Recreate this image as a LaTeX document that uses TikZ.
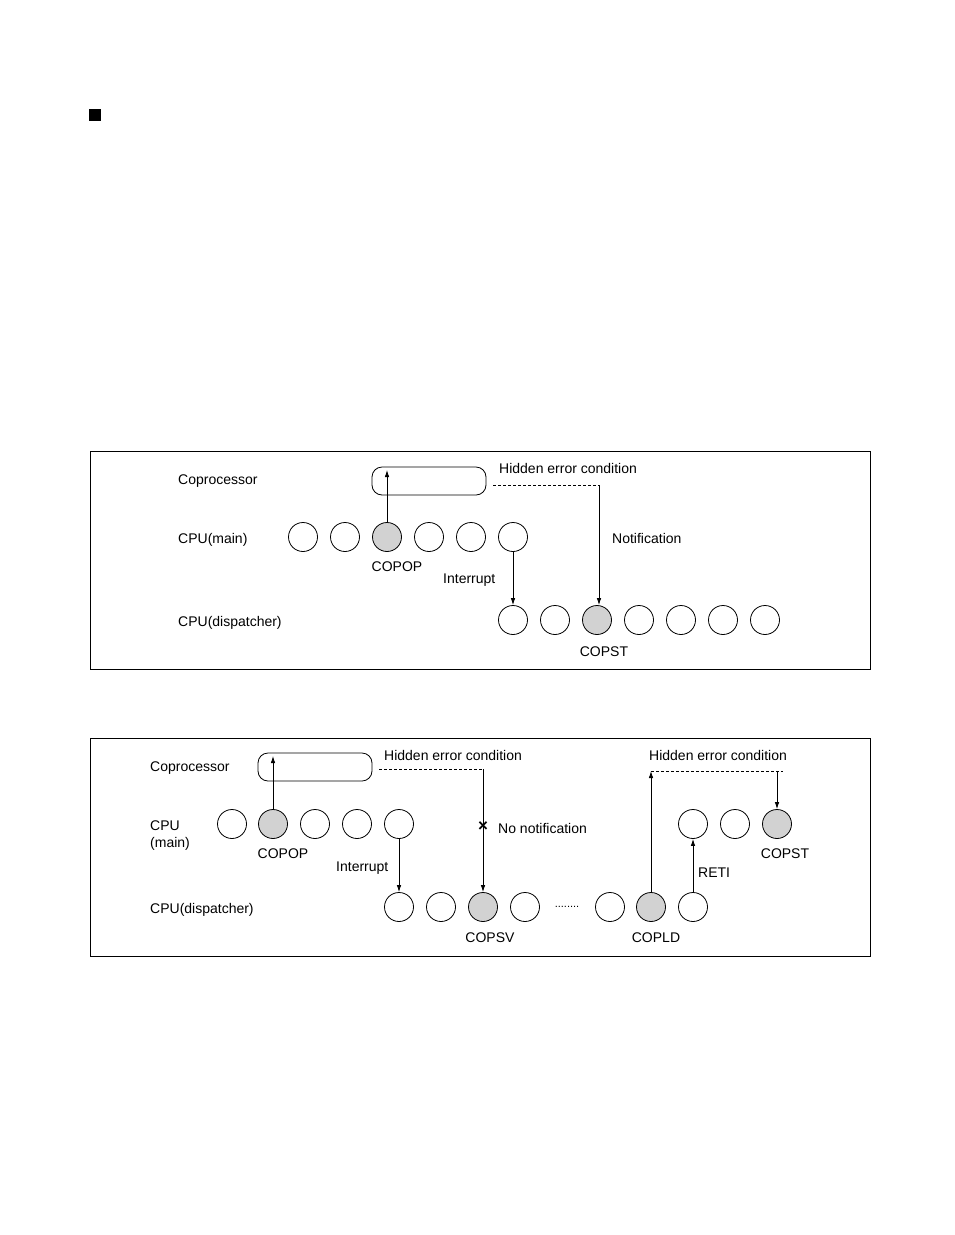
\documentclass[tikz,border=0pt]{standalone}
\usepackage{fontspec}
\setmainfont{Liberation Sans}
\usetikzlibrary{arrows.meta}
\definecolor{copgray}{HTML}{D2D2D2}
\begin{document}
\begin{tikzpicture}[x=1pt,y=-1pt,
  st/.style={circle,draw,line width=0.8pt,minimum size=29pt,inner sep=0pt},
  cop/.style={st,fill=copgray},
  lbl/.style={font=\fontsize{14}{16}\selectfont,inner sep=0pt,anchor=base west},
  clbl/.style={font=\fontsize{14}{16}\selectfont,inner sep=0pt,anchor=base},
  frame/.style={draw,line width=0.8pt},
  copbox/.style={draw,line width=0.8pt,rounded corners=10pt,minimum width=114pt,minimum height=28pt,inner sep=0pt},
  arr/.style={line width=0.8pt,-{Latex[length=7pt,width=4.5pt]}},
  dashln/.style={line width=0.7pt,dash pattern=on 3pt off 2pt}
]
\useasboundingbox (0,0) rectangle (954,1235);
\fill (89,109) rectangle (101,121);

% ---------- Box 1 ----------
\draw[frame] (90,451) rectangle (870,669);
\node[lbl] at (178,484) {Coprocessor};
\node[lbl] at (178,543) {CPU(main)};
\node[lbl] at (178,626) {CPU(dispatcher)};
\node[copbox] (cb1) at (429,481) {};
\foreach \i/\x in {1/303,2/345,4/429,5/471,6/513} \node[st] (m\i) at (\x,537) {};
\node[cop] (m3) at (387,537) {};
\foreach \i/\x in {1/513,2/555,4/639,5/681,6/723,7/765} \node[st] (d\i) at (\x,620) {};
\node[cop] (d3) at (597,620) {};
\node[clbl] at (397,571) {COPOP};
\node[clbl] at (604,656) {COPST};
\node[lbl] at (443,583) {Interrupt};
\node[lbl] at (612,543) {Notification};
\node[lbl] at (499,473) {Hidden error condition};
\coordinate (h1a) at (493,485);
\coordinate (h1b) at (599,485);
\draw[arr] (m3.north) -- (387,470);
\draw[dashln] (h1a) -- (h1b);
\draw[arr] (h1b) -- (d3.north -| h1b);
\draw[arr] (m6.south) -- (d1.north);

% ---------- Box 2 ----------
\draw[frame] (90,738) rectangle (870,956);
\node[lbl] at (150,771) {Coprocessor};
\node[lbl] at (150,830) {CPU};
\node[lbl] at (150,847) {(main)};
\node[lbl] at (150,913) {CPU(dispatcher)};
\node[copbox] (cb2) at (315,767) {};
\foreach \i/\x in {1/232,3/315,4/357,5/399,6/693,7/735} \node[st] (n\i) at (\x,824) {};
\node[cop] (n2) at (273,824) {};
\node[cop] (n8) at (777,824) {};
\foreach \i/\x in {1/399,2/441,4/525,5/610,7/693} \node[st] (e\i) at (\x,907) {};
\node[cop] (e3) at (483,907) {};
\node[cop] (e6) at (651,907) {};
\node[inner sep=0pt,font=\fontsize{11}{12}\selectfont,anchor=base] (dots) at (567,907) {........};
\node[clbl] at (283,858) {COPOP};
\node[clbl] at (490,942) {COPSV};
\node[clbl] at (656,942) {COPLD};
\node[clbl] at (785,858) {COPST};
\node[lbl] at (336,871) {Interrupt};
\node[lbl] at (698,877) {RETI};
\node[lbl] at (498,833) {No notification};
\node[lbl] at (384,760) {Hidden error condition};
\node[lbl] at (649,760) {Hidden error condition};
\coordinate (h2a) at (379,769);
\coordinate (h2b) at (483,769);
\coordinate (h3a) at (651,771);
\coordinate (h3b) at (783,771);
\coordinate (h3c) at (777,771);
\draw[arr] (n2.north) -- (273,756);
\draw[dashln] (h2a) -- (h2b);
\draw[arr] (h2b) -- (e3.north);
\node[inner sep=0pt,font=\fontsize{17}{18}\selectfont\bfseries] (x1) at (483,826.5) {×};
\draw[arr] (n5.south) -- (e1.north);
\draw[arr] (e6.north) -- (h3a);
\draw[dashln] (h3a) -- (h3b);
\draw[arr] (h3c) -- (n8.north);
\draw[arr] (e7.north) -- (n6.south);
\end{tikzpicture}
\end{document}
